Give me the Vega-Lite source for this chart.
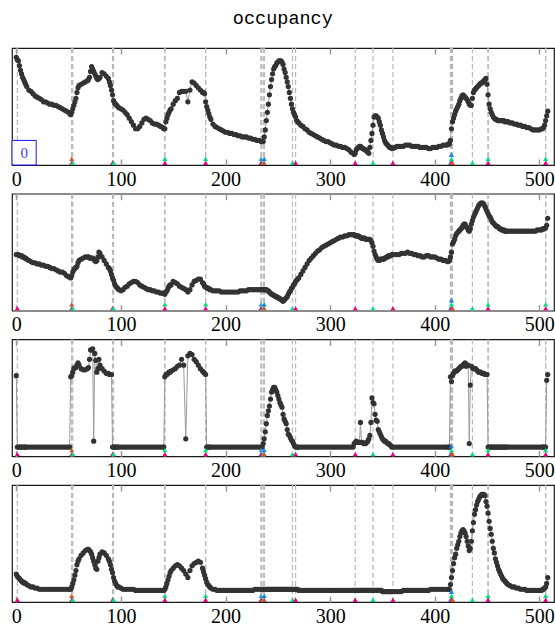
{
"$schema": "https://vega.github.io/schema/vega-lite/v6.json",
"padding": {"left": 10, "top": 9, "right": 1, "bottom": 0},
"title": {"text": "occupancy", "font": "Liberation Mono", "fontSize": 18.5, "fontWeight": "normal", "color": "#000", "anchor": "middle", "offset": 19},
"bounds": "flush",
"spacing": 28.7,
"config": {"view": {"stroke": "#1a1a1a", "strokeWidth": 1.2}},
"datasets": {
"ann": [
{"t":1,"k":1},{"t":53,"k":1},{"t":53,"k":3},{"t":54,"k":2},{"t":92,"k":1},{"t":93,"k":2},
{"t":142,"k":1},{"t":142,"k":2},{"t":181,"k":1},{"t":181,"k":2},
{"t":234,"k":1},{"t":234,"k":4},{"t":236,"k":2},{"t":237,"k":3},{"t":237,"k":5},
{"t":264,"k":2},{"t":267,"k":1},{"t":324,"k":1},{"t":341,"k":2},{"t":360,"k":1},
{"t":415,"k":4},{"t":416,"k":1},{"t":416,"k":2},{"t":416,"k":5},{"t":417,"k":3},
{"t":436,"k":2},{"t":451,"k":1},{"t":451,"k":2},{"t":506,"k":1},{"t":506,"k":2}
],
"s": [
{"t":0,"a":92,"b":48,"c":69,"d":24},{"t":1,"a":90,"b":48,"c":8,"d":22},{"t":2,"a":89,"b":48,"c":8,"d":21},{"t":3,"a":85,"b":47,"c":8,"d":20},{"t":4,"a":81,"b":47,"c":8,"d":19},{"t":5,"a":78,"b":47,"c":8,"d":18},{"t":6,"a":75,"b":46,"c":8,"d":17},{"t":7,"a":73,"b":46,"c":8,"d":17},{"t":8,"a":71,"b":45,"c":8,"d":16},{"t":9,"a":69,"b":45,"c":8,"d":16},{"t":10,"a":67,"b":44,"c":8,"d":15},
{"t":12,"a":64,"b":43,"c":8,"d":14},{"t":14,"a":63,"b":42,"c":8,"d":13},{"t":16,"a":61,"b":41,"c":8,"d":13},{"t":18,"a":59,"b":41,"c":8,"d":12},{"t":20,"a":58,"b":40,"c":8,"d":12},{"t":22,"a":57,"b":40,"c":8,"d":11},{"t":24,"a":56,"b":39,"c":8,"d":11},{"t":26,"a":54,"b":39,"c":8,"d":11},{"t":28,"a":54,"b":38,"c":8,"d":11},{"t":30,"a":53,"b":38,"c":8,"d":11},{"t":32,"a":52,"b":37,"c":8,"d":11},{"t":34,"a":52,"b":36,"c":8,"d":11},{"t":36,"a":51,"b":36,"c":8,"d":11},{"t":38,"a":51,"b":35,"c":8,"d":11},{"t":40,"a":50,"b":34,"c":8,"d":11},{"t":42,"a":49,"b":33,"c":8,"d":11},{"t":44,"a":48,"b":33,"c":8,"d":11},{"t":46,"a":47,"b":32,"c":8,"d":11},{"t":48,"a":46,"b":30,"c":8,"d":11},
{"t":50,"a":45,"b":29,"c":8,"d":11},{"t":51,"a":44,"b":29,"c":8,"d":11},{"t":52,"a":43,"b":28,"c":68,"d":11},{"t":53,"a":45,"b":30,"c":69,"d":13},{"t":54,"a":48,"b":33,"c":72,"d":16},{"t":55,"a":51,"b":35,"c":75,"d":19},{"t":56,"a":54,"b":36,"c":76,"d":23},{"t":57,"a":57,"b":37,"c":76,"d":27},{"t":58,"a":62,"b":38,"c":78,"d":32},{"t":59,"a":66,"b":41,"c":80,"d":35},{"t":60,"a":68,"b":43,"c":78,"d":37},
{"t":62,"a":69,"b":44,"c":75,"d":40},{"t":64,"a":70,"b":45,"c":74,"d":42},{"t":66,"a":71,"b":46,"c":74,"d":44},{"t":68,"a":72,"b":46,"c":75,"d":45},{"t":69,"a":73,"b":46,"c":76,"d":45},{"t":70,"a":75,"b":45,"c":83,"d":44},{"t":71,"a":80,"b":45,"c":91,"d":43},{"t":72,"a":84,"b":45,"c":91,"d":41},{"t":73,"a":82,"b":45,"c":92,"d":38},{"t":74,"a":80,"b":44,"c":13,"d":35},{"t":75,"a":78,"b":43,"c":88,"d":32},{"t":76,"a":76,"b":42,"c":82,"d":29},{"t":77,"a":74,"b":43,"c":72,"d":28},{"t":78,"a":73,"b":46,"c":75,"d":35},{"t":79,"a":74,"b":50,"c":83,"d":38},{"t":80,"a":75,"b":49,"c":78,"d":41},
{"t":82,"a":79,"b":46,"c":75,"d":43},{"t":84,"a":78,"b":43,"c":73,"d":42},{"t":86,"a":76,"b":40,"c":71,"d":40},{"t":88,"a":74,"b":37,"c":71,"d":37},{"t":89,"a":71,"b":36,"c":70,"d":35},{"t":90,"a":68,"b":34,"c":70,"d":32},{"t":91,"a":64,"b":31,"c":70,"d":28},{"t":92,"a":60,"b":28,"c":8,"d":25},{"t":93,"a":55,"b":26,"c":8,"d":21},{"t":94,"a":53,"b":23,"c":8,"d":18},{"t":95,"a":52,"b":21,"c":8,"d":16},{"t":96,"a":51,"b":20,"c":8,"d":14},{"t":97,"a":50,"b":19,"c":8,"d":13},{"t":98,"a":49,"b":18,"c":8,"d":13},
{"t":100,"a":48,"b":17,"c":8,"d":12},{"t":102,"a":47,"b":18,"c":8,"d":11},{"t":104,"a":45,"b":20,"c":8,"d":11},{"t":106,"a":43,"b":21,"c":8,"d":11},{"t":108,"a":40,"b":23,"c":8,"d":11},{"t":110,"a":37,"b":24,"c":8,"d":11},{"t":112,"a":34,"b":25,"c":8,"d":11},{"t":114,"a":31,"b":25,"c":8,"d":10},{"t":116,"a":31,"b":24,"c":8,"d":10},{"t":118,"a":33,"b":22,"c":8,"d":10},{"t":120,"a":36,"b":21,"c":8,"d":10},{"t":122,"a":39,"b":20,"c":8,"d":10},{"t":124,"a":40,"b":19,"c":8,"d":10},{"t":126,"a":39,"b":18,"c":8,"d":10},{"t":128,"a":38,"b":18,"c":8,"d":10},{"t":130,"a":36,"b":17,"c":8,"d":10},{"t":132,"a":35,"b":17,"c":8,"d":10},{"t":134,"a":35,"b":16,"c":8,"d":10},{"t":136,"a":34,"b":16,"c":8,"d":10},{"t":138,"a":33,"b":15,"c":8,"d":10},
{"t":140,"a":32,"b":15,"c":8,"d":10},{"t":141,"a":31,"b":15,"c":8,"d":10},{"t":142,"a":31,"b":14,"c":68,"d":11},{"t":143,"a":37,"b":16,"c":70,"d":13},{"t":144,"a":40,"b":17,"c":70,"d":16},{"t":145,"a":43,"b":19,"c":71,"d":19},{"t":146,"a":45,"b":21,"c":72,"d":22},{"t":147,"a":47,"b":22,"c":72,"d":25},{"t":148,"a":48,"b":22,"c":73,"d":27},
{"t":150,"a":52,"b":25,"c":74,"d":29},{"t":152,"a":55,"b":24,"c":75,"d":31},{"t":154,"a":57,"b":23,"c":77,"d":32},{"t":156,"a":62,"b":21,"c":78,"d":31},{"t":158,"a":63,"b":20,"c":83,"d":29},{"t":160,"a":63,"b":19,"c":78,"d":27},{"t":162,"a":63,"b":18,"c":15,"d":24},{"t":164,"a":54,"b":16,"c":86,"d":21},{"t":166,"a":64,"b":18,"c":88,"d":27},{"t":168,"a":71,"b":22,"c":87,"d":31},{"t":170,"a":70,"b":25,"c":83,"d":33},{"t":172,"a":68,"b":26,"c":81,"d":34},{"t":174,"a":66,"b":27,"c":78,"d":35},{"t":176,"a":64,"b":27,"c":75,"d":34},
{"t":178,"a":62,"b":24,"c":73,"d":29},{"t":179,"a":62,"b":23,"c":72,"d":26},{"t":180,"a":61,"b":21,"c":71,"d":23},{"t":181,"a":54,"b":20,"c":70,"d":20},{"t":182,"a":50,"b":20,"c":8,"d":17},{"t":183,"a":47,"b":19,"c":8,"d":15},{"t":184,"a":44,"b":19,"c":8,"d":14},{"t":185,"a":41,"b":18,"c":8,"d":13},{"t":186,"a":39,"b":18,"c":8,"d":12},
{"t":188,"a":35,"b":17,"c":8,"d":11},{"t":190,"a":33,"b":17,"c":8,"d":11},{"t":192,"a":32,"b":17,"c":8,"d":10},{"t":194,"a":31,"b":17,"c":8,"d":10},{"t":196,"a":30,"b":16,"c":8,"d":10},{"t":198,"a":29,"b":16,"c":8,"d":10},{"t":200,"a":28,"b":16,"c":8,"d":10},{"t":202,"a":28,"b":16,"c":8,"d":10},{"t":204,"a":27,"b":16,"c":8,"d":10},{"t":206,"a":27,"b":16,"c":8,"d":10},{"t":208,"a":26,"b":16,"c":8,"d":10},{"t":210,"a":26,"b":16,"c":8,"d":10},{"t":212,"a":25,"b":16,"c":8,"d":10},{"t":214,"a":25,"b":17,"c":8,"d":10},{"t":216,"a":24,"b":17,"c":8,"d":10},{"t":218,"a":24,"b":17,"c":8,"d":10},{"t":220,"a":24,"b":17,"c":8,"d":10},{"t":222,"a":23,"b":18,"c":8,"d":10},{"t":224,"a":23,"b":18,"c":8,"d":10},{"t":226,"a":22,"b":18,"c":8,"d":10},{"t":228,"a":22,"b":18,"c":8,"d":11},{"t":230,"a":21,"b":18,"c":8,"d":11},{"t":232,"a":21,"b":18,"c":8,"d":11},
{"t":234,"a":20,"b":18,"c":8,"d":11},{"t":235,"a":20,"b":18,"c":8,"d":11},{"t":236,"a":20,"b":18,"c":11,"d":11},{"t":237,"a":24,"b":18,"c":15,"d":11},{"t":238,"a":30,"b":18,"c":21,"d":11},{"t":239,"a":38,"b":18,"c":28,"d":11},{"t":240,"a":45,"b":17,"c":35,"d":11},{"t":241,"a":52,"b":17,"c":39,"d":11},{"t":242,"a":60,"b":16,"c":43,"d":11},{"t":243,"a":67,"b":15,"c":49,"d":11},{"t":244,"a":73,"b":14,"c":55,"d":11},{"t":245,"a":78,"b":14,"c":57,"d":11},{"t":246,"a":82,"b":13,"c":59,"d":11},{"t":247,"a":84,"b":13,"c":59,"d":11},{"t":248,"a":85,"b":12,"c":57,"d":11},{"t":249,"a":87,"b":12,"c":55,"d":11},{"t":250,"a":88,"b":11,"c":52,"d":11},{"t":251,"a":89,"b":11,"c":49,"d":11},{"t":252,"a":89,"b":10,"c":46,"d":11},{"t":253,"a":89,"b":10,"c":44,"d":11},{"t":254,"a":88,"b":9,"c":42,"d":11},{"t":255,"a":86,"b":8,"c":36,"d":11},{"t":256,"a":82,"b":9,"c":32,"d":11},{"t":257,"a":79,"b":10,"c":30,"d":11},{"t":258,"a":75,"b":11,"c":28,"d":11},{"t":259,"a":71,"b":12,"c":23,"d":11},{"t":260,"a":67,"b":14,"c":19,"d":11},{"t":261,"a":62,"b":16,"c":18,"d":11},{"t":262,"a":57,"b":17,"c":16,"d":11},{"t":263,"a":52,"b":19,"c":14,"d":11},{"t":264,"a":48,"b":20,"c":13,"d":11},{"t":265,"a":45,"b":22,"c":11,"d":11},{"t":266,"a":43,"b":23,"c":9,"d":11},{"t":267,"a":41,"b":25,"c":8,"d":11},{"t":268,"a":38,"b":26,"c":8,"d":11},{"t":269,"a":37,"b":27,"c":8,"d":11},{"t":270,"a":36,"b":28,"c":8,"d":10},
{"t":272,"a":34,"b":31,"c":8,"d":10},{"t":274,"a":33,"b":34,"c":8,"d":10},{"t":276,"a":31,"b":37,"c":8,"d":10},{"t":278,"a":30,"b":40,"c":8,"d":10},{"t":280,"a":28,"b":43,"c":8,"d":10},{"t":282,"a":27,"b":45,"c":8,"d":10},{"t":284,"a":26,"b":47,"c":8,"d":10},{"t":286,"a":25,"b":49,"c":8,"d":10},{"t":288,"a":24,"b":51,"c":8,"d":10},{"t":290,"a":23,"b":52,"c":8,"d":10},{"t":292,"a":22,"b":54,"c":8,"d":10},{"t":294,"a":21,"b":55,"c":8,"d":10},{"t":296,"a":20,"b":56,"c":8,"d":10},{"t":298,"a":20,"b":57,"c":8,"d":10},{"t":300,"a":19,"b":58,"c":8,"d":10},{"t":302,"a":18,"b":59,"c":8,"d":10},{"t":304,"a":17,"b":60,"c":8,"d":10},{"t":306,"a":17,"b":61,"c":8,"d":10},{"t":308,"a":16,"b":62,"c":8,"d":10},{"t":310,"a":16,"b":63,"c":8,"d":10},{"t":312,"a":15,"b":63,"c":8,"d":10},{"t":314,"a":15,"b":64,"c":8,"d":10},{"t":316,"a":14,"b":64,"c":8,"d":10},{"t":318,"a":13,"b":65,"c":8,"d":10},{"t":320,"a":11,"b":65,"c":8,"d":10},
{"t":322,"a":10,"b":65,"c":8,"d":10},{"t":323,"a":9,"b":65,"c":11,"d":10},{"t":324,"a":10,"b":64,"c":12,"d":10},{"t":325,"a":13,"b":64,"c":13,"d":10},{"t":326,"a":14,"b":64,"c":12,"d":10},{"t":327,"a":15,"b":64,"c":12,"d":10},{"t":328,"a":16,"b":63,"c":12,"d":10},{"t":329,"a":16,"b":63,"c":29,"d":10},{"t":330,"a":15,"b":62,"c":12,"d":10},{"t":331,"a":14,"b":62,"c":12,"d":10},{"t":332,"a":14,"b":62,"c":11,"d":10},{"t":333,"a":13,"b":62,"c":11,"d":10},{"t":334,"a":13,"b":61,"c":11,"d":10},{"t":335,"a":12,"b":61,"c":12,"d":10},{"t":336,"a":11,"b":61,"c":13,"d":10},{"t":337,"a":10,"b":61,"c":15,"d":10},{"t":338,"a":15,"b":61,"c":18,"d":10},{"t":339,"a":21,"b":60,"c":29,"d":10},{"t":340,"a":27,"b":58,"c":50,"d":10},{"t":341,"a":34,"b":55,"c":46,"d":10},{"t":342,"a":41,"b":51,"c":45,"d":10},{"t":343,"a":42,"b":48,"c":36,"d":10},{"t":344,"a":42,"b":46,"c":31,"d":10},{"t":345,"a":41,"b":44,"c":30,"d":10},{"t":346,"a":40,"b":43,"c":23,"d":10},{"t":347,"a":37,"b":43,"c":21,"d":10},{"t":348,"a":34,"b":44,"c":19,"d":10},{"t":349,"a":30,"b":44,"c":17,"d":10},{"t":350,"a":27,"b":44,"c":15,"d":9},{"t":351,"a":24,"b":44,"c":14,"d":9},{"t":352,"a":21,"b":45,"c":13,"d":9},{"t":353,"a":19,"b":45,"c":13,"d":9},{"t":354,"a":18,"b":46,"c":12,"d":9},{"t":355,"a":17,"b":46,"c":11,"d":9},{"t":356,"a":16,"b":47,"c":11,"d":9},{"t":357,"a":15,"b":47,"c":10,"d":9},{"t":358,"a":15,"b":47,"c":9,"d":9},{"t":359,"a":14,"b":48,"c":8,"d":9},{"t":360,"a":14,"b":48,"c":8,"d":9},
{"t":362,"a":15,"b":48,"c":8,"d":9},{"t":364,"a":16,"b":48,"c":8,"d":9},{"t":366,"a":16,"b":48,"c":8,"d":9},{"t":368,"a":16,"b":49,"c":8,"d":9},{"t":370,"a":16,"b":49,"c":8,"d":10},{"t":372,"a":17,"b":49,"c":8,"d":10},{"t":374,"a":17,"b":50,"c":8,"d":10},{"t":376,"a":17,"b":49,"c":8,"d":10},{"t":378,"a":16,"b":49,"c":8,"d":10},{"t":380,"a":16,"b":48,"c":8,"d":10},{"t":382,"a":16,"b":48,"c":8,"d":10},{"t":384,"a":16,"b":47,"c":8,"d":10},{"t":386,"a":15,"b":47,"c":8,"d":10},{"t":388,"a":15,"b":46,"c":8,"d":10},{"t":390,"a":15,"b":46,"c":8,"d":10},{"t":392,"a":15,"b":47,"c":8,"d":10},{"t":394,"a":14,"b":47,"c":8,"d":10},{"t":396,"a":14,"b":46,"c":8,"d":11},{"t":398,"a":15,"b":46,"c":8,"d":11},{"t":400,"a":15,"b":46,"c":8,"d":11},{"t":402,"a":15,"b":45,"c":8,"d":11},{"t":404,"a":16,"b":44,"c":8,"d":11},{"t":406,"a":16,"b":44,"c":8,"d":11},{"t":408,"a":17,"b":43,"c":8,"d":11},{"t":410,"a":17,"b":43,"c":8,"d":11},
{"t":412,"a":17,"b":42,"c":8,"d":11},{"t":413,"a":18,"b":42,"c":8,"d":11},{"t":414,"a":18,"b":43,"c":8,"d":11},{"t":415,"a":21,"b":46,"c":68,"d":15},{"t":416,"a":31,"b":50,"c":64,"d":21},{"t":417,"a":37,"b":57,"c":69,"d":27},{"t":418,"a":40,"b":59,"c":71,"d":33},{"t":419,"a":43,"b":61,"c":73,"d":38},{"t":420,"a":46,"b":64,"c":73,"d":41},{"t":421,"a":48,"b":66,"c":73,"d":46},{"t":422,"a":50,"b":67,"c":74,"d":49},{"t":423,"a":52,"b":68,"c":75,"d":52},{"t":424,"a":55,"b":69,"c":76,"d":56},{"t":425,"a":57,"b":70,"c":77,"d":59},{"t":426,"a":59,"b":71,"c":77,"d":61},{"t":427,"a":60,"b":73,"c":78,"d":62},{"t":428,"a":59,"b":74,"c":79,"d":61},{"t":429,"a":58,"b":74,"c":80,"d":59},{"t":430,"a":57,"b":72,"c":77,"d":56},{"t":431,"a":56,"b":71,"c":78,"d":52},{"t":432,"a":54,"b":69,"c":78,"d":48},{"t":433,"a":52,"b":68,"c":11,"d":44},{"t":434,"a":51,"b":70,"c":61,"d":46},{"t":435,"a":51,"b":74,"c":77,"d":52},{"t":436,"a":57,"b":77,"c":76,"d":61},{"t":437,"a":62,"b":80,"c":75,"d":68},{"t":438,"a":64,"b":82,"c":75,"d":75},{"t":439,"a":65,"b":84,"c":75,"d":79},{"t":440,"a":66,"b":86,"c":74,"d":83},{"t":441,"a":67,"b":88,"c":73,"d":86},{"t":442,"a":68,"b":90,"c":72,"d":88},{"t":443,"a":69,"b":91,"c":72,"d":90},{"t":444,"a":70,"b":92,"c":72,"d":91},{"t":445,"a":70,"b":92,"c":71,"d":92},{"t":446,"a":71,"b":92,"c":71,"d":92},{"t":447,"a":72,"b":91,"c":71,"d":92},{"t":448,"a":73,"b":89,"c":70,"d":91},{"t":449,"a":74,"b":87,"c":70,"d":86},{"t":450,"a":69,"b":85,"c":70,"d":82},{"t":451,"a":60,"b":83,"c":8,"d":76},{"t":452,"a":52,"b":81,"c":8,"d":69},{"t":453,"a":48,"b":80,"c":8,"d":63},{"t":454,"a":45,"b":78,"c":8,"d":58},{"t":455,"a":43,"b":76,"c":8,"d":52},{"t":456,"a":41,"b":75,"c":8,"d":46},{"t":457,"a":40,"b":74,"c":8,"d":42},{"t":458,"a":39,"b":73,"c":8,"d":37},{"t":459,"a":39,"b":72,"c":8,"d":34},{"t":460,"a":38,"b":72,"c":8,"d":31},{"t":461,"a":38,"b":71,"c":8,"d":28},{"t":462,"a":38,"b":70,"c":8,"d":26},{"t":463,"a":38,"b":70,"c":8,"d":24},{"t":464,"a":38,"b":69,"c":8,"d":22},{"t":465,"a":38,"b":69,"c":8,"d":20},{"t":466,"a":38,"b":69,"c":8,"d":19},{"t":467,"a":37,"b":68,"c":8,"d":18},{"t":468,"a":37,"b":68,"c":8,"d":17},{"t":469,"a":37,"b":68,"c":8,"d":16},{"t":470,"a":37,"b":68,"c":8,"d":15},
{"t":472,"a":36,"b":68,"c":8,"d":14},{"t":474,"a":36,"b":68,"c":8,"d":13},{"t":476,"a":35,"b":68,"c":8,"d":13},{"t":478,"a":35,"b":68,"c":8,"d":12},{"t":480,"a":34,"b":68,"c":8,"d":12},{"t":482,"a":34,"b":68,"c":8,"d":11},{"t":484,"a":33,"b":68,"c":8,"d":11},{"t":486,"a":33,"b":68,"c":8,"d":11},{"t":488,"a":32,"b":68,"c":8,"d":10},{"t":490,"a":32,"b":68,"c":8,"d":10},{"t":492,"a":31,"b":68,"c":8,"d":10},{"t":494,"a":30,"b":68,"c":8,"d":10},{"t":496,"a":30,"b":68,"c":8,"d":10},{"t":498,"a":30,"b":69,"c":8,"d":10},{"t":500,"a":30,"b":69,"c":8,"d":10},
{"t":502,"a":31,"b":69,"c":8,"d":10},{"t":503,"a":31,"b":70,"c":8,"d":11},{"t":504,"a":32,"b":70,"c":8,"d":11},{"t":505,"a":34,"b":70,"c":8,"d":12},{"t":506,"a":38,"b":71,"c":8,"d":13},{"t":507,"a":42,"b":73,"c":65,"d":16},{"t":508,"a":46,"b":79,"c":70,"d":21}
]
},
"vconcat": [
{
"width": 542, "height": 117,
"resolve": {"scale": {"y": "independent"}, "axis": {"x": "independent"}},
"layer": [
{"data": {"name": "ann"}, "mark": {"type": "rule", "color": "#b8b8b8", "strokeWidth": 1.2, "strokeDash": [5, 3]},
 "encoding": {"x": {"field": "t", "type": "quantitative", "scale": {"domain": [-4.1, 514], "nice": false, "zero": false}, "axis": null}}},
{"data": {"name": "s"}, "mark": {"type": "line", "color": "#9a9a9a", "strokeWidth": 1},
 "encoding": {"x": {"field": "t", "type": "quantitative", "scale": {"domain": [-4.1, 514], "nice": false, "zero": false},
   "axis": {"orient": "bottom", "values": [0, 100, 200, 300, 400, 500], "domain": false, "grid": false, "tickSize": -6, "tickColor": "#999", "tickWidth": 1.5, "labelFont": "Liberation Serif", "labelFontSize": 20, "labelColor": "#000", "labelPadding": 10, "title": null, "labelFlush": false, "labelOverlap": false, "labelBound": false}},
  "y": {"field": "a", "type": "quantitative", "scale": {"domain": [0, 100], "nice": false, "zero": false}, "axis": null}}},
{"data": {"name": "s"}, "mark": {"type": "circle", "color": "#333333", "size": 27, "opacity": 1},
 "encoding": {"x": {"field": "t", "type": "quantitative", "scale": {"domain": [-4.1, 514], "nice": false, "zero": false},
   "axis": {"orient": "top", "values": [0, 100, 200, 300, 400, 500], "domain": false, "grid": false, "labels": false, "tickSize": -6, "tickColor": "#999", "tickWidth": 1.5, "title": null}},
  "y": {"field": "a", "type": "quantitative", "scale": {"domain": [0, 100], "nice": false, "zero": false}, "axis": null}}},
{"data": {"name": "ann"}, "transform": [{"window": [{"op": "row_number", "as": "lvl"}], "groupby": ["t"], "sort": [{"field": "k"}]}],
 "mark": {"type": "point", "shape": "triangle-up", "filled": true, "size": 26, "opacity": 1},
 "encoding": {"x": {"field": "t", "type": "quantitative", "axis": null},
  "y": {"field": "lvl", "type": "quantitative", "scale": {"domain": [0.425, 29.675], "nice": false, "zero": false}, "axis": null},
  "color": {"field": "k", "type": "nominal", "scale": {"domain": [1, 2, 3, 4, 5], "range": ["#e8007e", "#00e07a", "#d2552a", "#20a8c4", "#1e7ff0"]}, "legend": null}}},
{"data": {"values": [{"label": "0"}]}, "mark": {"type": "rect", "fill": "white", "stroke": "#1414ff", "strokeWidth": 1},
 "encoding": {"x": {"datum": -4.1, "type": "quantitative", "axis": null}, "x2": {"datum": 19},
  "y": {"datum": 0, "type": "quantitative", "scale": {"domain": [0, 100], "nice": false, "zero": false}, "axis": null}, "y2": {"datum": 21}}},
{"data": {"values": [{"label": "0"}]}, "mark": {"type": "text", "font": "Liberation Serif", "fontSize": 15, "color": "#3a3aff"},
 "encoding": {"x": {"datum": 7.5, "type": "quantitative", "axis": null},
  "y": {"datum": 10.5, "type": "quantitative", "scale": {"domain": [0, 100], "nice": false, "zero": false}, "axis": null},
  "text": {"field": "label"}}}
]
},
{
"width": 542, "height": 117,
"resolve": {"scale": {"y": "independent"}, "axis": {"x": "independent"}},
"layer": [
{"data": {"name": "ann"}, "mark": {"type": "rule", "color": "#b8b8b8", "strokeWidth": 1.2, "strokeDash": [5, 3]},
 "encoding": {"x": {"field": "t", "type": "quantitative", "scale": {"domain": [-4.1, 514], "nice": false, "zero": false}, "axis": null}}},
{"data": {"name": "s"}, "mark": {"type": "line", "color": "#9a9a9a", "strokeWidth": 1},
 "encoding": {"x": {"field": "t", "type": "quantitative", "scale": {"domain": [-4.1, 514], "nice": false, "zero": false},
   "axis": {"orient": "bottom", "values": [0, 100, 200, 300, 400, 500], "domain": false, "grid": false, "tickSize": -6, "tickColor": "#999", "tickWidth": 1.5, "labelFont": "Liberation Serif", "labelFontSize": 20, "labelColor": "#000", "labelPadding": 10, "title": null, "labelFlush": false, "labelOverlap": false, "labelBound": false}},
  "y": {"field": "b", "type": "quantitative", "scale": {"domain": [0, 100], "nice": false, "zero": false}, "axis": null}}},
{"data": {"name": "s"}, "mark": {"type": "circle", "color": "#333333", "size": 27, "opacity": 1},
 "encoding": {"x": {"field": "t", "type": "quantitative", "scale": {"domain": [-4.1, 514], "nice": false, "zero": false},
   "axis": {"orient": "top", "values": [0, 100, 200, 300, 400, 500], "domain": false, "grid": false, "labels": false, "tickSize": -6, "tickColor": "#999", "tickWidth": 1.5, "title": null}},
  "y": {"field": "b", "type": "quantitative", "scale": {"domain": [0, 100], "nice": false, "zero": false}, "axis": null}}},
{"data": {"name": "ann"}, "transform": [{"window": [{"op": "row_number", "as": "lvl"}], "groupby": ["t"], "sort": [{"field": "k"}]}],
 "mark": {"type": "point", "shape": "triangle-up", "filled": true, "size": 26, "opacity": 1},
 "encoding": {"x": {"field": "t", "type": "quantitative", "axis": null},
  "y": {"field": "lvl", "type": "quantitative", "scale": {"domain": [0.425, 29.675], "nice": false, "zero": false}, "axis": null},
  "color": {"field": "k", "type": "nominal", "scale": {"domain": [1, 2, 3, 4, 5], "range": ["#e8007e", "#00e07a", "#d2552a", "#20a8c4", "#1e7ff0"]}, "legend": null}}}
]
},
{
"width": 542, "height": 117,
"resolve": {"scale": {"y": "independent"}, "axis": {"x": "independent"}},
"layer": [
{"data": {"name": "ann"}, "mark": {"type": "rule", "color": "#b8b8b8", "strokeWidth": 1.2, "strokeDash": [5, 3]},
 "encoding": {"x": {"field": "t", "type": "quantitative", "scale": {"domain": [-4.1, 514], "nice": false, "zero": false}, "axis": null}}},
{"data": {"name": "s"}, "mark": {"type": "line", "color": "#9a9a9a", "strokeWidth": 1},
 "encoding": {"x": {"field": "t", "type": "quantitative", "scale": {"domain": [-4.1, 514], "nice": false, "zero": false},
   "axis": {"orient": "bottom", "values": [0, 100, 200, 300, 400, 500], "domain": false, "grid": false, "tickSize": -6, "tickColor": "#999", "tickWidth": 1.5, "labelFont": "Liberation Serif", "labelFontSize": 20, "labelColor": "#000", "labelPadding": 10, "title": null, "labelFlush": false, "labelOverlap": false, "labelBound": false}},
  "y": {"field": "c", "type": "quantitative", "scale": {"domain": [0, 100], "nice": false, "zero": false}, "axis": null}}},
{"data": {"name": "s"}, "mark": {"type": "circle", "color": "#333333", "size": 27, "opacity": 1},
 "encoding": {"x": {"field": "t", "type": "quantitative", "scale": {"domain": [-4.1, 514], "nice": false, "zero": false},
   "axis": {"orient": "top", "values": [0, 100, 200, 300, 400, 500], "domain": false, "grid": false, "labels": false, "tickSize": -6, "tickColor": "#999", "tickWidth": 1.5, "title": null}},
  "y": {"field": "c", "type": "quantitative", "scale": {"domain": [0, 100], "nice": false, "zero": false}, "axis": null}}},
{"data": {"name": "ann"}, "transform": [{"window": [{"op": "row_number", "as": "lvl"}], "groupby": ["t"], "sort": [{"field": "k"}]}],
 "mark": {"type": "point", "shape": "triangle-up", "filled": true, "size": 26, "opacity": 1},
 "encoding": {"x": {"field": "t", "type": "quantitative", "axis": null},
  "y": {"field": "lvl", "type": "quantitative", "scale": {"domain": [0.425, 29.675], "nice": false, "zero": false}, "axis": null},
  "color": {"field": "k", "type": "nominal", "scale": {"domain": [1, 2, 3, 4, 5], "range": ["#e8007e", "#00e07a", "#d2552a", "#20a8c4", "#1e7ff0"]}, "legend": null}}}
]
},
{
"width": 542, "height": 117,
"resolve": {"scale": {"y": "independent"}, "axis": {"x": "independent"}},
"layer": [
{"data": {"name": "ann"}, "mark": {"type": "rule", "color": "#b8b8b8", "strokeWidth": 1.2, "strokeDash": [5, 3]},
 "encoding": {"x": {"field": "t", "type": "quantitative", "scale": {"domain": [-4.1, 514], "nice": false, "zero": false}, "axis": null}}},
{"data": {"name": "s"}, "mark": {"type": "line", "color": "#9a9a9a", "strokeWidth": 1},
 "encoding": {"x": {"field": "t", "type": "quantitative", "scale": {"domain": [-4.1, 514], "nice": false, "zero": false},
   "axis": {"orient": "bottom", "values": [0, 100, 200, 300, 400, 500], "domain": false, "grid": false, "tickSize": -6, "tickColor": "#999", "tickWidth": 1.5, "labelFont": "Liberation Serif", "labelFontSize": 20, "labelColor": "#000", "labelPadding": 10, "title": null, "labelFlush": false, "labelOverlap": false, "labelBound": false}},
  "y": {"field": "d", "type": "quantitative", "scale": {"domain": [0, 100], "nice": false, "zero": false}, "axis": null}}},
{"data": {"name": "s"}, "mark": {"type": "circle", "color": "#333333", "size": 27, "opacity": 1},
 "encoding": {"x": {"field": "t", "type": "quantitative", "scale": {"domain": [-4.1, 514], "nice": false, "zero": false},
   "axis": {"orient": "top", "values": [0, 100, 200, 300, 400, 500], "domain": false, "grid": false, "labels": false, "tickSize": -6, "tickColor": "#999", "tickWidth": 1.5, "title": null}},
  "y": {"field": "d", "type": "quantitative", "scale": {"domain": [0, 100], "nice": false, "zero": false}, "axis": null}}},
{"data": {"name": "ann"}, "transform": [{"window": [{"op": "row_number", "as": "lvl"}], "groupby": ["t"], "sort": [{"field": "k"}]}],
 "mark": {"type": "point", "shape": "triangle-up", "filled": true, "size": 26, "opacity": 1},
 "encoding": {"x": {"field": "t", "type": "quantitative", "axis": null},
  "y": {"field": "lvl", "type": "quantitative", "scale": {"domain": [0.425, 29.675], "nice": false, "zero": false}, "axis": null},
  "color": {"field": "k", "type": "nominal", "scale": {"domain": [1, 2, 3, 4, 5], "range": ["#e8007e", "#00e07a", "#d2552a", "#20a8c4", "#1e7ff0"]}, "legend": null}}}
]
}
]
}
